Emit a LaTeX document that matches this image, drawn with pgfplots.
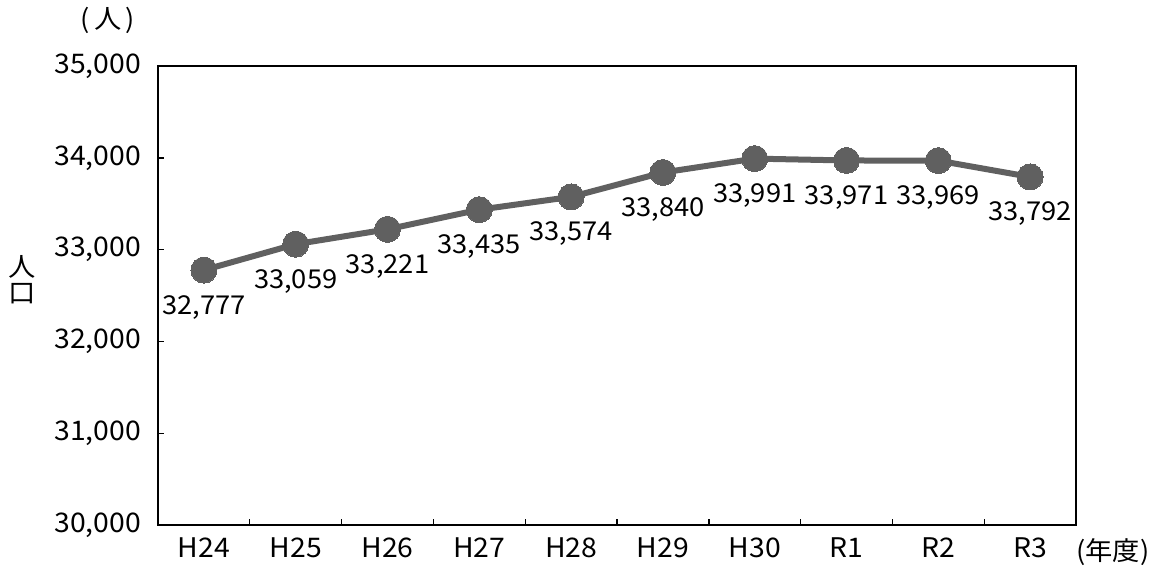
\documentclass[border=0pt]{standalone}
\usepackage{fontspec}
\setmainfont{Noto Sans CJK JP}[FakeStretch=1.05]
\usepackage{pgfplots}
\pgfplotsset{compat=1.18}
\definecolor{linegray}{RGB}{96,96,96}
\begin{document}
\begin{tikzpicture}
\begin{axis}[
    scale only axis,
    width=459pt, height=229.5pt,
    xmin=-0.5, xmax=9.5,
    ymin=30000, ymax=35000,
    ytick={30000,31000,...,35000},
    scaled y ticks=false,
    xtick={0,...,9},
    xticklabels={H24,H25,H26,H27,H28,H29,H30,R1,R2,R3},
    minor xtick={0.5,1.5,...,8.5},
    major x tick style={draw=none},
    xtick pos=bottom, ytick pos=left,
    tick align=inside,
    major tick length=3pt, minor tick length=3pt,
    tick style={black, line width=0.7pt},
    axis line style={black, line width=1pt},
    /pgf/number format/fixed,
    /pgf/number format/1000 sep={,},
    /pgf/number format/assume math mode=true,
    yticklabel style={xshift=-5pt},
    xticklabel style={yshift=-3pt},
    tick label style={font=\fontsize{13.5}{15}\selectfont},
    clip=false,
]
\addplot[color=linegray, line width=3pt, mark=*, mark size=6.5pt,
    mark options={fill=linegray, draw=linegray, line width=0pt},
    nodes near coords={\pgfmathprintnumber[fixed, precision=0, 1000 sep={,}, assume math mode=true]{\pgfplotspointmeta}},
    nodes near coords style={anchor=center, yshift=-18.5pt, text=black, font=\fontsize{13}{15}\selectfont},
    point meta=y]
coordinates {(0,32777)(1,33059)(2,33221)(3,33435)(4,33574)(5,33840)(6,33991)(7,33971)(8,33969)(9,33792)};
\end{axis}
\node[font=\fontsize{13}{15}\selectfont] at ([xshift=-25pt,yshift=23pt]current axis.north west) {(\,人\,)};
\node[font=\fontsize{13}{15}\selectfont, align=center, inner sep=0pt] at ([xshift=-68pt,yshift=-107pt]current axis.north west) {人\\[-2pt]口};
\node[font=\fontsize{13}{15}\selectfont, anchor=west, inner sep=0pt] at ([xshift=0pt,yshift=-13.5pt]current axis.south east) {(年度)};
\pgfresetboundingbox
\path[use as bounding box] ([xshift=-79pt,yshift=-22pt]current axis.south west) rectangle ([xshift=40.5pt,yshift=33pt]current axis.north east);
\end{tikzpicture}
\end{document}
